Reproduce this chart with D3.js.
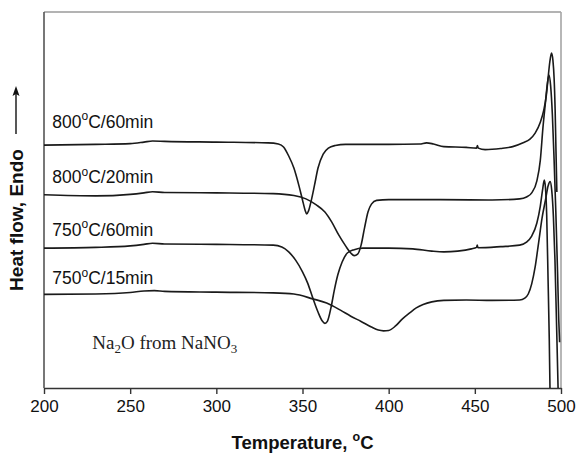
<!DOCTYPE html>
<html>
<head>
<meta charset="utf-8">
<script src="https://cdn.jsdelivr.net/npm/d3@7/dist/d3.min.js"></script>
<style>
  html, body { margin: 0; padding: 0; background: #fff; }
  svg { display: block; }
</style>
</head>
<body>
<svg id="chart" width="578" height="454"></svg>
<script>
// DSC heating traces, temperature (°C) vs heat flow (arbitrary units, endo up)
const xTicks = [200, 250, 300, 350, 400, 450, 500];

const labelMain = ["800", "800", "750", "750"];
const labelTail = ["C/60min", "C/20min", "C/60min", "C/15min"];

const temp800_60 = [200,230,250,258,263,270,300,330,336,339,342,345,348,350,351.5,352.4,353.5,355,357,359,362,365,369,375,400,418,422,426,432,445,451,451.5,452,456,465,472,478,482,485,488,490,491.5,492.5,493.5,494.5,495.3,496,496.6,497.1,497.6];
const flow800_60 = [64.6,64.8,65.0,65.4,65.7,65.6,65.4,65.2,64.9,64.1,61.7,58.5,53.7,50.0,47.3,46.3,47.1,49.7,54.0,58.5,62.2,63.8,64.5,64.8,64.8,64.9,65.2,64.9,64.2,64.0,63.8,64.5,63.8,63.4,63.7,64.2,65.2,66.2,67.8,70.7,73.9,77.9,82.4,86.7,89.1,87.2,82.4,73.9,62.8,52.1];

const temp800_20 = [200,230,250,258,263,270,300,333,345,352,358,363,367,371,375,378,380,382,384,386,388,390,393,400,430,460,476,480,483,486,488,489.5,491,492,493,494,495,496,497,498,498.7,499.2];
const flow800_20 = [51.4,51.1,51.5,51.9,52.2,52.0,51.9,51.7,51.2,50.3,48.7,46.8,44.1,40.7,37.8,35.9,35.2,35.6,38.0,42.6,46.8,48.9,49.9,50.1,50.1,50.0,50.3,50.8,51.9,55.1,60.6,69.1,76.1,80.6,83.2,80.3,72.6,60.6,46.8,30.9,18.1,12.2];

const temp750_60 = [200,230,250,258,263,270,300,333,338,342,346,350,353,356,359,361.5,363,364.5,366.5,368.5,370.5,373,376,380,385,400,414,425,432,440,448,451,451.4,451.8,465,476,480,483,486,488,489.3,490.3,491,491.7,492.5,493.2,493.7];
const flow750_60 = [37.2,37.4,37.8,38.2,38.5,38.3,38.2,38.0,37.5,36.2,34.0,30.9,27.9,23.9,20.2,17.8,17.2,17.8,21.3,26.1,30.1,33.5,35.9,36.8,37.2,37.2,37.0,36.4,36.2,36.4,37.0,37.4,38.0,37.3,37.6,38.0,38.8,40.4,43.9,48.4,52.7,55.3,53.2,46.0,28.7,12.8,-3.2];

const temp750_15 = [200,230,250,258,264,270,300,333,345,356,364,372,378,384,390,394,397,400,404,408,412,416,420,425,432,445,460,476,479,481,483,485,487,489,491,492.5,493.7,494.6,495.6,496.5,497.5,498.3,498.7];
const flow750_15 = [24.9,25.0,25.4,25.8,25.9,25.7,25.5,25.3,25.0,23.7,22.6,20.7,19.1,17.7,16.2,15.4,15.2,15.3,16.5,18.4,19.9,21.3,22.2,22.9,23.3,23.4,23.3,23.4,23.9,25.0,27.7,32.2,38.6,45.2,50.0,53.7,54.9,52.7,45.5,34.0,15.4,0,-8.5];

const traces = [
  { t: temp800_60, f: flow800_60 },
  { t: temp800_20, f: flow800_20 },
  { t: temp750_60, f: flow750_60 },
  { t: temp750_15, f: flow750_15 }
];

// label baselines given in heat-flow units, anchored at the left of the plot
const labelFlow = [69.2, 54.5, 40.5, 27.6];

const svg = d3.select("#chart");
const margin = { left: 44, right: 17, top: 12, bottom: 66 };
const W = 578, H = 454;

const x = d3.scaleLinear().domain([200, 500]).range([margin.left, W - margin.right]);
const y = d3.scaleLinear().domain([0, 100]).range([H - margin.bottom, margin.top]);

svg.append("defs").append("clipPath").attr("id", "plotclip")
  .append("rect")
  .attr("x", x(200)).attr("y", y(100))
  .attr("width", x(500) - x(200)).attr("height", y(0) - y(100));

// frame: top and right in light grey
svg.append("line").attr("x1", x(200)).attr("x2", x(500)).attr("y1", y(100)).attr("y2", y(100))
  .attr("stroke", "#9a9a9a").attr("stroke-width", 1.6);
svg.append("line").attr("x1", x(500)).attr("x2", x(500)).attr("y1", y(100)).attr("y2", y(0))
  .attr("stroke", "#a5a5a5").attr("stroke-width", 1.6);
// left axis line (no ticks)
svg.append("line").attr("x1", x(200)).attr("x2", x(200)).attr("y1", y(100)).attr("y2", y(0))
  .attr("stroke", "#555").attr("stroke-width", 1.6);

// bottom axis
const xAxis = d3.axisBottom(x).tickValues(xTicks).tickSize(6).tickSizeOuter(0).tickPadding(6)
  .tickFormat(d3.format("d"));
const gx = svg.append("g").attr("transform", `translate(0,${y(0)})`).call(xAxis);
gx.select(".domain").attr("stroke", "#333").attr("stroke-width", 1.4);
gx.selectAll(".tick line").attr("stroke", "#333").attr("stroke-width", 1.4);
gx.selectAll(".tick text")
  .attr("font-family", "Liberation Sans, Arial, sans-serif")
  .attr("font-size", 17).attr("fill", "#111");

// traces
const line = d3.line()
  .x((d) => x(d[0]))
  .y((d) => y(d[1]))
  .curve(d3.curveMonotoneX);

const gTr = svg.append("g").attr("clip-path", "url(#plotclip)");
traces.forEach((tr) => {
  const pts = tr.t.map((t, i) => [t, tr.f[i]]);
  gTr.append("path").datum(pts)
    .attr("d", line)
    .attr("fill", "none")
    .attr("stroke", "#1a1a1a")
    .attr("stroke-width", 1.6)
    .attr("stroke-linejoin", "round");
});

// curve labels
labelMain.forEach((m, i) => {
  const txt = svg.append("text")
    .attr("x", x(204.8)).attr("y", y(labelFlow[i]))
    .attr("font-family", "Liberation Sans, Arial, sans-serif")
    .attr("font-size", 17.5).attr("fill", "#111");
  txt.append("tspan").text(m);
  txt.append("tspan").attr("font-size", 12).attr("dy", -7.5).text("o");
  txt.append("tspan").attr("dy", 7.5).text(labelTail[i]);
});

// sample note
const note = svg.append("text")
  .attr("x", x(228)).attr("y", y(10.5))
  .attr("font-family", "Liberation Serif, Times New Roman, serif")
  .attr("font-size", 19).attr("fill", "#222");
note.append("tspan").text("Na");
note.append("tspan").attr("font-size", 13).attr("dy", 4).text("2");
note.append("tspan").attr("dy", -4).text("O from NaNO");
note.append("tspan").attr("font-size", 13).attr("dy", 4).text("3");

// x title
const xt = svg.append("text")
  .attr("x", x(350)).attr("y", 449)
  .attr("text-anchor", "middle")
  .attr("font-family", "Liberation Sans, Arial, sans-serif")
  .attr("font-weight", "bold").attr("font-size", 18.5).attr("fill", "#111");
xt.append("tspan").text("Temperature, ");
xt.append("tspan").attr("font-size", 12.5).attr("dy", -8).text("o");
xt.append("tspan").attr("dy", 8).text("C");

// y title with arrow pointing up (endo direction)
const yTitleG = svg.append("g").attr("transform", "translate(23,220) rotate(-90)");
yTitleG.append("text")
  .attr("x", 0).attr("y", 0)
  .attr("text-anchor", "middle")
  .attr("font-family", "Liberation Sans, Arial, sans-serif")
  .attr("font-weight", "bold").attr("font-size", 19).attr("fill", "#111")
  .text("Heat flow, Endo");
svg.append("line")
  .attr("x1", 16).attr("x2", 16).attr("y1", 134).attr("y2", 92)
  .attr("stroke", "#111").attr("stroke-width", 1.4);
svg.append("path")
  .attr("d", "M16,86 L12.5,96 L16,94 L19.5,96 Z")
  .attr("fill", "#111");
</script>
</body>
</html>
